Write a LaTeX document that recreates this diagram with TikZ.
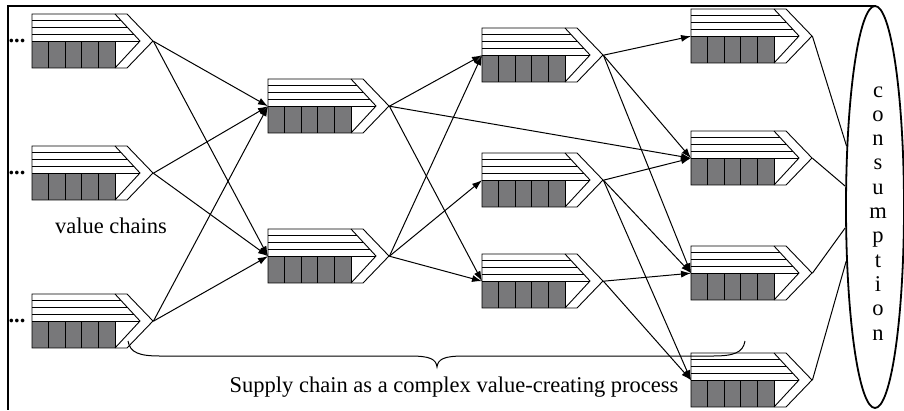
\documentclass[tikz,border=0pt]{standalone}
\usepackage{fontspec}
\setmainfont{Liberation Serif}
\usetikzlibrary{arrows.meta,shapes.geometric}
\definecolor{cellgray}{RGB}{120,120,122}

\tikzset{
  link/.style={line width=1pt, -{Latex[length=10pt,width=7pt]}},
  plainlink/.style={line width=1pt},
  glyphline/.style={line width=0.9pt},
  label/.style={anchor=base, inner sep=0pt, font=\fontsize{22.5}{26}\selectfont},
  % one value chain: striped upper band, five grey cells, chevron head
  valuechain/.pic={
    \node[inner sep=0pt, minimum width=121pt, minimum height=54pt,
          anchor=north west] (-box) at (0,0) {};
    \fill[cellgray] (0,27) rectangle (83,54);
    \foreach \k in {1,2,3,4}
      \draw[glyphline] ({16.6*\k},27) -- ({16.6*\k},54);
    \draw[glyphline] (83,27) -- (83,54);
    \foreach \k in {1,2,3}
      \draw[glyphline] (0,{6.75*\k}) -- ({83+6.25*\k},{6.75*\k});
    \draw[glyphline] (0,27) -- (108,27);
    \draw[glyphline] (83,0) -- (108,27) -- (83,54);
    \draw[glyphline] (95,0) -- (0,0) -- (0,54) -- (95,54) -- (121,27) -- cycle;
  }
}

\begin{document}
\begin{tikzpicture}[x=1pt,y=-1pt]
\useasboundingbox (0,0) rectangle (904,410);

% frame
\draw[line width=1.8pt] (876,6) -- (8,6) -- (8,410);

% value chains, column by column
\pic (c1a) at (32,14)  {valuechain};
\pic (c1b) at (32,146) {valuechain};
\pic (c1c) at (32,294) {valuechain};
\pic (c2a) at (268,79)  {valuechain};
\pic (c2b) at (268,229) {valuechain};
\pic (c3a) at (482,28)  {valuechain};
\pic (c3b) at (482,153) {valuechain};
\pic (c3c) at (482,254) {valuechain};
\pic (c4a) at (691,9)   {valuechain};
\pic (c4b) at (691,131) {valuechain};
\pic (c4c) at (691,246) {valuechain};
\pic (c4d) at (691,353) {valuechain};

% upstream dots
\node[label] (dots1) at (17,42.5)  {\textbf{...}};
\node[label] (dots2) at (17,174.5) {\textbf{...}};
\node[label] (dots3) at (17,322.5) {\textbf{...}};

% consumption
\node[draw, ellipse, line width=1.8pt, minimum width=58pt, minimum height=402pt,
      inner sep=0pt] (cons) at (875,207) {};
\foreach \l [count=\i from 0] in {c,o,n,s,u,m,p,t,i,o,n}
  \node[label] (cl\i) at (878,{97+24.3*\i}) {\l};

% links between value chains
\foreach \s/\t in {c1a/c2a, c1a/c2b, c1b/c2a, c1b/c2b, c1c/c2a, c1c/c2b,
                   c2a/c3a, c2a/c3c, c2a/c4b,
                   c2b/c3a, c2b/c3b, c2b/c3c,
                   c3a/c4a, c3a/c4b, c3a/c4c,
                   c3b/c4b, c3b/c4c, c3b/c4d,
                   c3c/c4c, c3c/c4d}
  \draw[link] (\s-box.east) -- (\t-box.west);

% final chains feed consumption
\draw[plainlink] (c4a-box.east) -- (cons.115.8);
\draw[plainlink] (c4b-box.east) -- (cons.145.4);
\draw[plainlink] (c4c-box.east) -- (cons.215.9);
\draw[plainlink] (c4d-box.east) -- (cons.242.2);

% brace under the network
\draw[line width=1pt] (128,341) .. controls (130,353) and (140,356) .. (160,356)
  -- (410,356) .. controls (430,356) and (436,359) .. (437,367)
  .. controls (438,359) and (444,356) .. (464,356)
  -- (713,356) .. controls (733,356) and (743,353) .. (745,341);

% labels
\node[label] (vc) at (111,233) {value chains};
\node[label] (sc) at (454,392) {Supply chain as a complex value-creating process};
\end{tikzpicture}
\end{document}
